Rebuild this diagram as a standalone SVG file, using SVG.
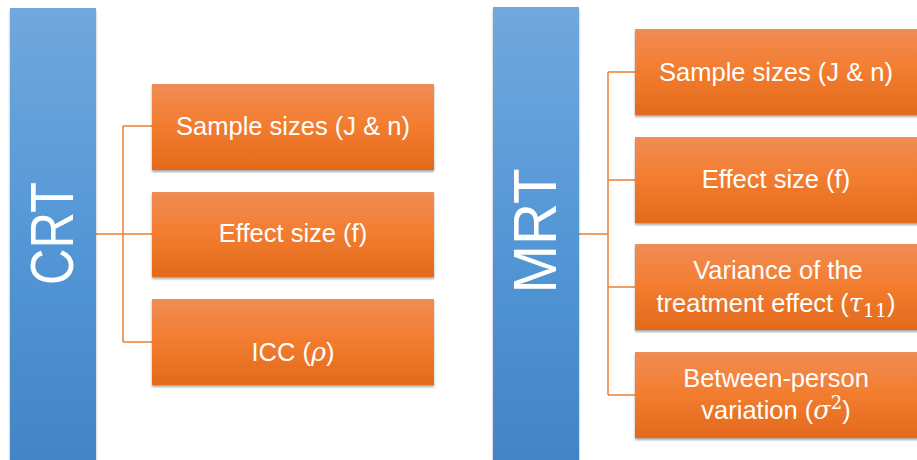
<svg xmlns="http://www.w3.org/2000/svg" width="917" height="460" viewBox="0 0 917 460">
<defs>
<linearGradient id="blue" x1="0" y1="0" x2="0" y2="1">
<stop offset="0" stop-color="#71A8DD"/>
<stop offset="0.5" stop-color="#5497D6"/>
<stop offset="1" stop-color="#4284C5"/>
</linearGradient>
<linearGradient id="orange" x1="0" y1="0" x2="0" y2="1">
<stop offset="0" stop-color="#F08C55"/>
<stop offset="0.45" stop-color="#F37E31"/>
<stop offset="1" stop-color="#E3691B"/>
</linearGradient>
<filter id="sh" x="-5%" y="-5%" width="110%" height="115%">
<feDropShadow dx="0" dy="2" stdDeviation="1.2" flood-color="#000" flood-opacity="0.35"/>
</filter>
<style>
.bar{fill:url(#blue);filter:url(#sh);}
.box{fill:url(#orange);filter:url(#sh);}
.t{font-family:"Liberation Sans",Arial,sans-serif;font-size:25.5px;fill:#fff;text-anchor:middle;}
.big{font-family:"Liberation Sans",Arial,sans-serif;font-size:62px;fill:#fff;text-anchor:middle;}
.m{font-family:"DejaVu Serif","Liberation Serif",serif;font-style:italic;}
.c{fill:none;stroke:#ED7D31;stroke-width:1.5;}
</style>
</defs>
<rect width="917" height="460" fill="#fff"/>
<g id="connectors">
<path class="c" d="M96 234H123M123 126V342M123 126H152M123 234H152M123 342H152"/>
<path class="c" d="M579 234H608M608 72V395M608 72H635M608 180H635M608 287H635M608 395H635"/>
</g>
<g id="crt">
<rect class="bar" x="10" y="8" width="86" height="460"/>
<text class="big" transform="translate(73,233.5) rotate(-90)" textLength="103" lengthAdjust="spacingAndGlyphs">CRT</text>
</g>
<g id="crt-sample">
<rect class="box" x="152" y="84" width="282" height="86"/>
<text class="t" x="293" y="135">Sample sizes (J &amp; n)</text>
</g>
<g id="crt-effect">
<rect class="box" x="152" y="192" width="282" height="85"/>
<text class="t" x="293" y="242">Effect size (f)</text>
</g>
<g id="crt-icc">
<rect class="box" x="152" y="299" width="282" height="86"/>
<text class="t" x="293" y="361">ICC (<tspan class="m">ρ</tspan>)</text>
</g>
<g id="mrt">
<rect class="bar" x="493" y="7" width="86" height="460"/>
<text class="big" transform="translate(556,231) rotate(-90)" textLength="125" lengthAdjust="spacingAndGlyphs">MRT</text>
</g>
<g id="mrt-sample">
<rect class="box" x="635" y="29" width="290" height="86"/>
<text class="t" x="776" y="81">Sample sizes (J &amp; n)</text>
</g>
<g id="mrt-effect">
<rect class="box" x="635" y="137" width="290" height="86"/>
<text class="t" x="776" y="188">Effect size (f)</text>
</g>
<g id="mrt-variance">
<rect class="box" x="635" y="244" width="290" height="86"/>
<text class="t" x="778" y="279">Variance of the</text>
<text class="t" x="776" y="312">treatment effect (<tspan class="m">τ</tspan><tspan font-family="DejaVu Serif,serif" font-size="19" dy="5">11</tspan><tspan dy="-5">)</tspan></text>
</g>
<g id="mrt-between">
<rect class="box" x="635" y="352" width="290" height="86"/>
<text class="t" x="776" y="387">Between-person</text>
<text class="t" x="776" y="419">variation (<tspan class="m">σ</tspan><tspan font-family="DejaVu Serif,serif" font-size="18" dy="-10">2</tspan><tspan dy="10">)</tspan></text>
</g>
</svg>
